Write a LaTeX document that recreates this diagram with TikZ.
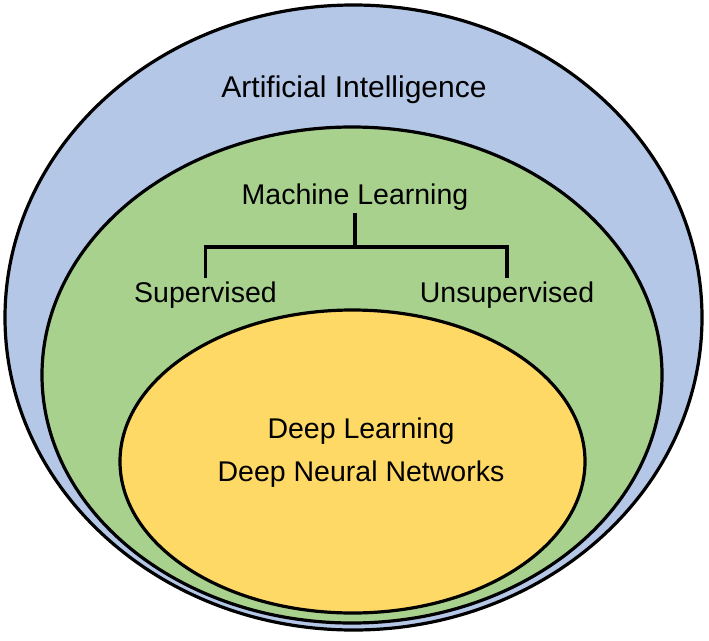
\documentclass[tikz,border=0pt]{standalone}
\usepackage{fontspec}
\setmainfont{Liberation Sans}
\usetikzlibrary{shapes.geometric}
\definecolor{aiblue}{RGB}{180,199,231}
\definecolor{mlgreen}{RGB}{169,209,142}
\definecolor{dlyellow}{RGB}{255,217,102}
\begin{document}
\begin{tikzpicture}[x=1pt,y=-1pt,
  region/.style={ellipse, draw=black, line width=3.2pt, inner sep=0pt, outer sep=0pt},
  lbl/.style={anchor=base, inner sep=3pt, font=\fontsize{28.5}{34}\selectfont},
  biglbl/.style={anchor=base, inner sep=3pt, font=\fontsize{30}{36}\selectfont},
  tree/.style={draw=black, line width=3.4pt}]
\useasboundingbox (0,0) rectangle (709,640);
\node[region, fill=aiblue, minimum width=697pt, minimum height=625pt] (ai) at (353.5,317.5) {};
\node[region, fill=mlgreen, minimum width=620pt, minimum height=496pt] (mlr) at (352,375) {};
\node[region, fill=dlyellow, minimum width=465pt, minimum height=303pt] (dlr) at (352.5,461.5) {};
\node[biglbl] (ait) at (354,97) {Artificial Intelligence};
\node[lbl] (ml) at (355,204) {Machine Learning};
\node[lbl] (sup) at (205.5,302) {Supervised};
\node[lbl] (uns) at (507,302) {Unsupervised};
\node[lbl] (dl) at (361,438) {Deep Learning};
\node[lbl] (dnn) at (361,481) {Deep Neural Networks};
\coordinate (j) at (355,247);
\draw[tree] (ml.south) -- (j);
\draw[tree] (sup.north) |- (j) -| (uns.north);
\end{tikzpicture}
\end{document}
